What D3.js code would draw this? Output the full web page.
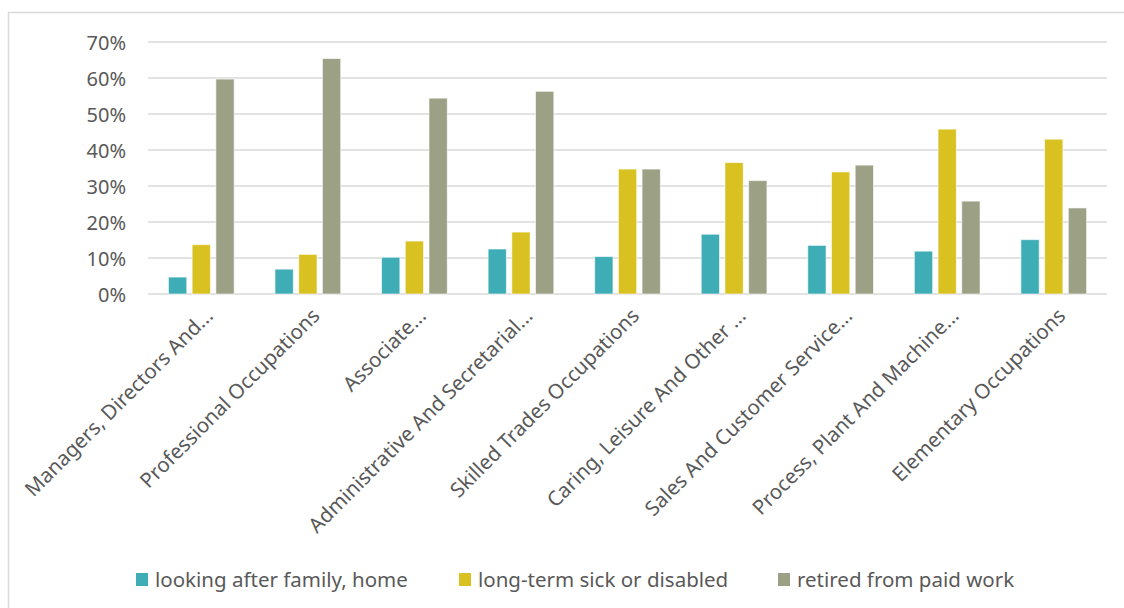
<!DOCTYPE html>
<html><head><meta charset="utf-8">
<script src="https://cdn.jsdelivr.net/npm/d3@7"></script>
<style>
html,body{margin:0;padding:0;background:#fff;}
svg{display:block;font-family:"Noto Sans","Open Sans",sans-serif;}
</style></head>
<body>
<svg id="chart" width="1124" height="608"></svg>
<script>
const categories = ["Managers, Directors And...","Professional Occupations","Associate...","Administrative And Secretarial...","Skilled Trades Occupations","Caring, Leisure And Other ...","Sales And Customer Service...","Process, Plant And Machine...","Elementary Occupations"];
const seriesNames = ["looking after family, home","long-term sick or disabled","retired from paid work"];
const lookingAfter = [4.7, 6.9, 10.2, 12.5, 10.4, 16.6, 13.5, 11.9, 15.1];
const longTermSick = [13.7, 11.0, 14.7, 17.2, 34.7, 36.5, 33.9, 45.8, 43.0];
const retired = [59.7, 65.4, 54.4, 56.3, 34.7, 31.5, 35.8, 25.8, 23.9];
const yTicks = [0, 10, 20, 30, 40, 50, 60, 70];
const colors = ["#3EADB6", "#D8C120", "#9CA084"];

const seriesValues = [lookingAfter, longTermSick, retired];
const svg = d3.select("#chart");
const textColor = "#595959";

// frame
svg.append("rect").attr("x", 8.5).attr("y", 12.5).attr("width", 1130).attr("height", 610)
  .attr("fill", "none").attr("stroke", "#D9D9D9").attr("stroke-width", 1.5);

const plotL = 148, plotR = 1107, plotT = 42, plotB = 294;
const x0 = d3.scaleBand().domain(categories).range([plotL, plotR]).padding(0);
const x1 = d3.scaleBand().domain(seriesNames).range([20.45, 86.15]).paddingInner(0.228).paddingOuter(0);
const y = d3.scaleLinear().domain([0, 70]).range([plotB, plotT]);

// gridlines
svg.append("g").selectAll("line").data(yTicks).join("line")
  .attr("x1", plotL).attr("x2", plotR)
  .attr("y1", d => y(d)).attr("y2", d => y(d))
  .attr("stroke", "#D9D9D9").attr("stroke-width", 1.4);

// y axis labels
const yAxis = d3.axisLeft(y).tickValues(yTicks).tickFormat(d => d + "%").tickSize(0).tickPadding(0);
const ya = svg.append("g").attr("transform", `translate(126,0)`).call(yAxis);
ya.select(".domain").remove();
ya.attr("font-size", null).attr("font-family", null);
ya.selectAll("text").attr("fill", textColor).style("font-size", "20px")
  .style("font-family", "'Noto Sans', sans-serif").attr("dy", "0.36em");

// bars
const groups = svg.append("g").selectAll("g").data(categories).join("g")
  .attr("transform", d => `translate(${x0(d)},0)`);
groups.selectAll("rect").data((c, i) => seriesNames.map((s, k) => ({s, k, v: seriesValues[k][i]})))
  .join("rect")
  .attr("x", d => x1(d.s)).attr("width", x1.bandwidth())
  .attr("y", d => y(d.v)).attr("height", d => y(0) - y(d.v))
  .attr("fill", d => colors[d.k])
  .attr("stroke", "#ffffff").attr("stroke-opacity", 0.6).attr("stroke-width", 1);

// x labels
const xAxis = d3.axisBottom(x0).tickSize(0).tickPadding(0);
const xa = svg.append("g").attr("transform", `translate(0,${plotB})`).call(xAxis);
xa.select(".domain").remove();
xa.attr("font-size", null).attr("font-family", null);
xa.selectAll("text")
  .attr("fill", textColor).style("font-size", "20.5px").style("font-family", "'Noto Sans', sans-serif")
  .attr("text-anchor", "end").attr("dy", null).attr("y", 0)
  .attr("transform", "translate(13,23) rotate(-45)");

// legend
const legendX = [136, 459, 778];
const leg = svg.append("g").selectAll("g").data(seriesNames).join("g")
  .attr("transform", (d, i) => `translate(${legendX[i]},573)`);
leg.append("rect").attr("width", 12).attr("height", 13).attr("fill", (d, i) => colors[i]);
leg.append("text").attr("x", 19).attr("y", 13.5).text(d => d)
  .attr("fill", textColor).style("font-size", "20.5px");
</script>
</body></html>
